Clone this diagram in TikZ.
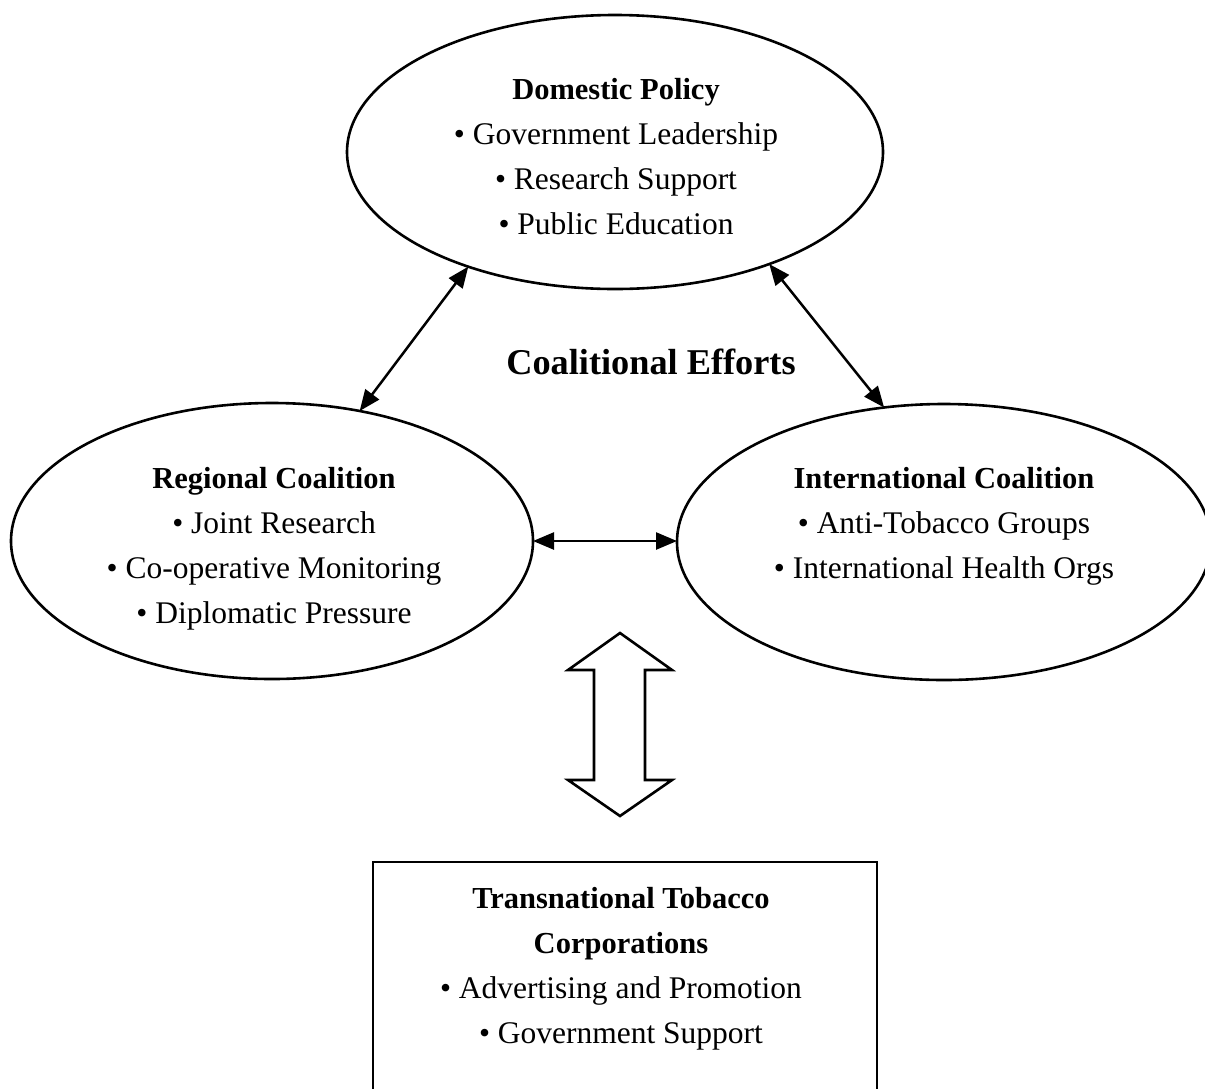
\documentclass[tikz,border=0pt]{standalone}
\usepackage{fontspec}
\setmainfont{Liberation Serif}
\usetikzlibrary{shapes.geometric,arrows.meta}
\tikzset{
  ell/.style={draw, ellipse, line width=2.6pt, inner sep=0pt, outer sep=0pt},
  txt/.style={align=center, inner sep=0pt, font=\fontsize{31.5}{45}\selectfont},
  hd/.style={font=\fontsize{30.5}{45}\selectfont\bfseries},
  ttl/.style={inner sep=0pt, font=\fontsize{36.3}{40}\selectfont\bfseries},
  biarrow/.style={line width=2.5pt, {Triangle[length=21pt,width=17pt]}-{Triangle[length=21pt,width=17pt]}},
  bigarrow/.style={draw, line width=2.6pt, line join=miter, fill=white},
  corpbox/.style={draw, rectangle, line width=2.6pt, inner sep=0pt, outer sep=0pt}
}
\newcommand{\hdtext}[1]{{\fontsize{30.5}{45}\selectfont\bfseries #1}}
\begin{document}
\begin{tikzpicture}[x=1pt,y=-1pt]
\clip (0,0) rectangle (1205,1088);
\fill[white] (0,0) rectangle (1205,1088);

% ellipses
\node[ell, minimum width=536pt, minimum height=274pt] (dom) at (615,152) {};
\node[ell, minimum width=522pt, minimum height=276pt] (reg) at (272,541) {};
\node[ell, minimum width=534pt, minimum height=276pt] (int) at (944,542) {};

% texts in ellipses
\node[txt] (domtxt) at (616,157) {\hdtext{Domestic Policy}\\ • Government Leadership\\ • Research Support\\ • Public Education};
\node[txt] (regtxt) at (274,549) {\hdtext{Regional Coalition}\\ • Joint Research\\ • Co-operative Monitoring\\ • Diplomatic Pressure};
\node[txt] (inttxt) at (944,526) {\hdtext{International Coalition}\\ • Anti-Tobacco Groups\\ • International Health Orgs};

% title
\node[ttl] (title) at (651,362) {Coalitional Efforts};

% connectors
\draw[biarrow] (dom.218.7) -- (reg.56);
\draw[biarrow] (dom.324) -- (int.114.3);
\draw[biarrow] (reg.east) -- (reg.east -| int.west);

% block double arrow
\coordinate (bt) at (620,633);
\coordinate (bb) at (620,816);
\draw[bigarrow] (bt) -- (672,670) -- (645,670) -- (645,780) -- (672,780) -- (bb)
  -- (568,780) -- (594,780) -- (594,670) -- (568,670) -- cycle;

% box
\node[corpbox, anchor=north, minimum width=504pt, minimum height=260pt] (corp) at (625,862) {};
\node[txt] (corptxt) at (621,969) {\hdtext{Transnational Tobacco}\\ \hdtext{Corporations}\\ • Advertising and Promotion\\ • Government Support};
\end{tikzpicture}
\end{document}
